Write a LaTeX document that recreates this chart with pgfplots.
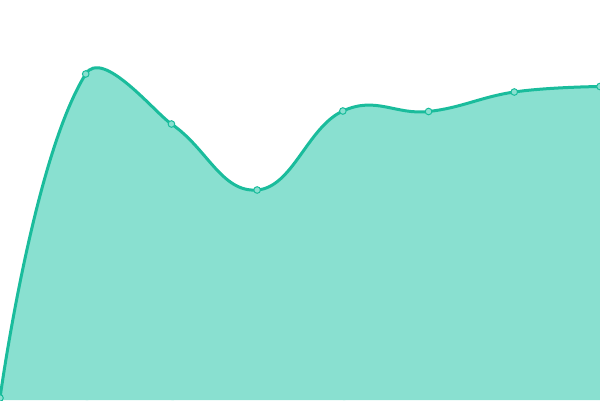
\documentclass[border=0pt]{standalone}
\usepackage{pgfplots}
\usepackage{pgfplotstable}
\pgfplotsset{compat=1.18}
\definecolor{lineC}{RGB}{26,188,156}
\definecolor{fillC}{RGB}{137,224,208}
\pgfplotstableread{
x y
0 2
1 326
2 276
3 210
4 289
5 288.5
6 308
7 313.5
}\datatab
\newlength{\unitw}
\setlength{\unitw}{85.7143pt}
\pgfplotsset{
  seg/.style n args={2}{
    xmin=#1, xmax=#2,
    width={(#2-#1)*\unitw}, height=400pt, scale only axis,
    ymin=0, ymax=400, hide axis, clip=true,
    anchor=south west, at={(#1*\unitw,0pt)},
  },
  fillseg/.style={draw=none, fill=fillC, smooth, tension=#1},
  lineseg/.style={lineC, line width=3pt, smooth, tension=#1},
}
\begin{document}
\begin{tikzpicture}
% fills
\begin{axis}[seg={0}{1.03}]
\addplot[fillseg=1.11] table {\datatab} \closedcycle;
\end{axis}
\begin{axis}[seg={1}{2.03}]
\addplot[fillseg=0.35] table {\datatab} \closedcycle;
\end{axis}
\begin{axis}[seg={2}{4.03}]
\addplot[fillseg=0.75] table {\datatab} \closedcycle;
\end{axis}
\begin{axis}[seg={4}{7}]
\addplot[fillseg=0.7] table {\datatab} \closedcycle;
\end{axis}
% lines
\begin{axis}[seg={0}{1.01}]
\addplot[lineseg=1.11] table {\datatab};
\end{axis}
\begin{axis}[seg={1}{2.01}]
\addplot[lineseg=0.35] table {\datatab};
\end{axis}
\begin{axis}[seg={2}{4.01}]
\addplot[lineseg=0.75] table {\datatab};
\end{axis}
\begin{axis}[seg={4}{7}]
\addplot[lineseg=0.7] table {\datatab};
\end{axis}
% markers
\begin{axis}[seg={0}{7}, clip=false]
\addplot[only marks, mark=*, mark size=3.3pt,
  mark options={fill=fillC, draw=lineC, line width=1pt}] table {\datatab};
\end{axis}
\pgfresetboundingbox
\path (0pt,0pt) rectangle (600pt,400pt);
\end{tikzpicture}
\end{document}
